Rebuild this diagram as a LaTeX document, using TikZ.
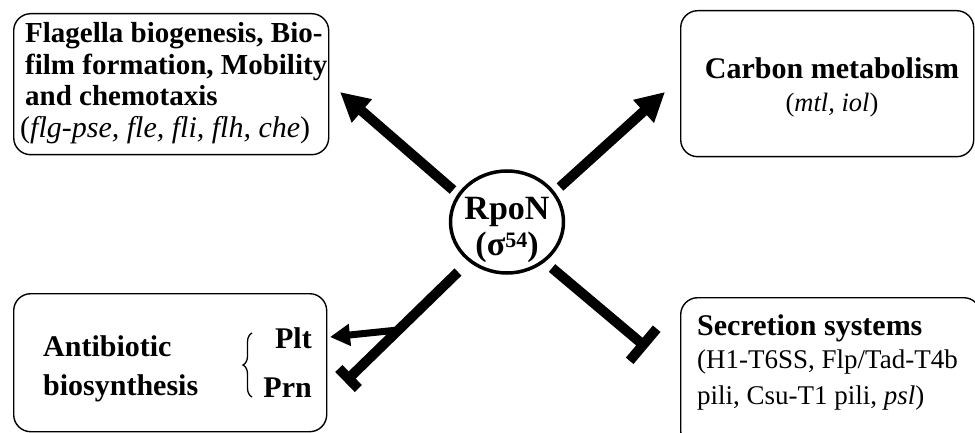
\documentclass[tikz,border=0pt]{standalone}
\usepackage{fontspec}
\setmainfont{Liberation Serif}
\usetikzlibrary{arrows.meta,shapes.geometric,decorations.pathreplacing}
\begin{document}
\begin{tikzpicture}[x=1pt,y=-1pt,
  box/.style={draw, line width=1.4pt, rounded corners=17pt, anchor=north west, inner sep=0pt},
  ttl/.style={font=\fontsize{30}{32}\selectfont\bfseries, inner sep=0pt, anchor=base west},
  sub/.style={font=\fontsize{27}{30}\selectfont, inner sep=0pt, anchor=base west},
  bigarrow/.style={line width=10pt, -{Triangle[length=29pt,width=29pt]}},
  smallarrow/.style={line width=7pt, -{Triangle[length=20pt,width=21pt]}},
  inhib/.style={line width=10pt, -{Bar[width=#1]}},
  inhib/.default=40pt
]
\path[use as bounding box, clip] (0,0) rectangle (975,433);

% boxes
\node[box, minimum width=315pt, minimum height=141pt] (flbox) at (13,13) {};
\node[box, minimum width=293pt, minimum height=146pt] (cbbox) at (680,10) {};
\node[box, minimum width=313pt, minimum height=138pt] (abbox) at (13,293) {};
\node[box, minimum width=300pt, minimum height=150pt] (ssbox) at (680,297) {};

% flagella texts
\node[ttl, font=\fontsize{29}{32}\selectfont\bfseries] (f1) at (25,43) {Flagella biogenesis, Bio-};
\node[ttl, font=\fontsize{29}{32}\selectfont\bfseries] (f2) at (25,75) {film formation, Mobility};
\node[ttl, font=\fontsize{29}{32}\selectfont\bfseries] (f3) at (25,106) {and chemotaxis};
\node[sub, font=\fontsize{30}{32}\selectfont] (f4) at (20,138) {(\textit{flg-pse, fle, fli, flh, che})};

% carbon texts
\node[ttl, anchor=base] (c1) at (832,79) {Carbon metabolism};
\node[sub, font=\fontsize{26.5}{30}\selectfont, anchor=base] (c2) at (832,112) {(\textit{mtl, iol})};

% secretion texts
\node[ttl] (s1) at (697,335) {Secretion systems};
\node[sub] (s2) at (697,368) {(H1-T6SS, Flp/Tad-T4b};
\node[sub] (s3) at (697,404) {pili, Csu-T1 pili, \textit{psl})};

% antibiotic texts
\node[ttl] (b1) at (43,356) {Antibiotic};
\node[ttl] (b2) at (43,395) {biosynthesis};
\node[ttl, anchor=base east] (plt) at (312,348) {Plt};
\node[ttl, anchor=base east] (prn) at (312,397) {Prn};
\coordinate (brb) at (252,397);
\coordinate (brt) at (252,333);
\draw[line width=1.3pt, decorate, decoration={brace, amplitude=9pt}] (brb) -- (brt);

% central node
\node[draw, ellipse, line width=3.5pt, minimum width=113pt, minimum height=102pt, inner sep=0pt] (rpon) at (507,222) {};
\node[font=\fontsize{34}{36}\selectfont\bfseries, inner sep=0pt, anchor=base] (r1) at (507,219) {RpoN};
\node[font=\fontsize{34}{36}\selectfont\bfseries, inner sep=0pt, anchor=base] (r2) at (507,255) {(σ\raisebox{8pt}{\fontsize{22}{24}\selectfont 54})};

% connectors
\coordinate (a1s) at (453,190);
\coordinate (a1e) at (340,92);
\coordinate (a2s) at (560,187);
\coordinate (a2e) at (665,92);
\coordinate (a3s) at (458,272);
\coordinate (a3e) at (345,382);
\coordinate (a3j) at (398,330);
\coordinate (a3t) at (330,337);
\coordinate (a4s) at (552,268);
\coordinate (a4e) at (647,348);

\draw[bigarrow] (a1s) -- (a1e);
\draw[bigarrow] (a2s) -- (a2e);
\draw[inhib=28pt] (a3s) -- (a3e);
\draw[smallarrow] (a3j) -- (a3t);
\draw[inhib=42pt] (a4s) -- (a4e);
\end{tikzpicture}
\end{document}
